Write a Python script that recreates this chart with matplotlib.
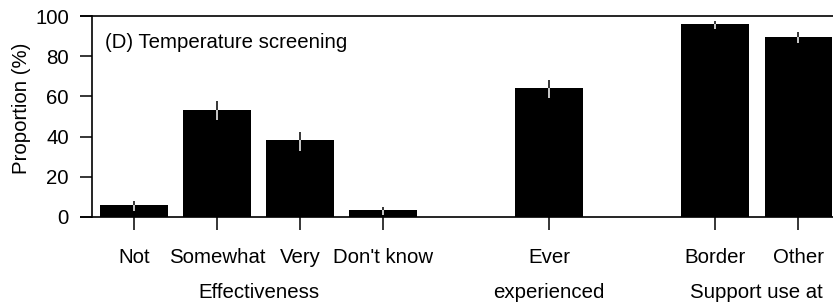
import matplotlib
matplotlib.use("Agg")
import matplotlib.pyplot as plt
import numpy as np

plt.rcParams['font.family'] = ['Liberation Sans', 'DejaVu Sans']

categories = ["Not", "Somewhat", "Very", "Don't know", "Ever", "Border", "Other"]
positions = [0, 1, 2, 3, 5, 7, 8]
values = [5.8, 53.1, 38.1, 3.3, 64.1, 95.9, 89.4]
err_low = [2.8, 48.3, 33.0, 1.2, 59.4, 93.5, 86.4]
err_high = [7.9, 57.5, 42.1, 4.8, 68.4, 97.7, 92.1]
group_labels = ["Effectiveness", "experienced", "Support use at"]
group_centers = [1.5, 5, 7.5]
yticks = [0, 20, 40, 60, 80, 100]

fig = plt.figure(figsize=(8.33, 3.07), dpi=100)
W, H = 833, 307
left, right, top, bottom = 92, 833, 16, 217
ax = fig.add_axes([left / W, (H - bottom) / H, (right - left) / W, (bottom - top) / H])

ax.bar(positions, values, width=0.81, color='black', edgecolor='black', linewidth=0)
ax.vlines(positions, err_low, values, color='white', linewidth=1.1, zorder=3)
ax.vlines(positions, values, err_high, color='black', linewidth=1.1, zorder=3)

ax.set_xlim(-0.506, 8.42)
ax.set_ylim(0, 100)

fs = 14.7
ax.set_yticks(yticks)
ax.set_yticklabels([str(v) for v in yticks], fontsize=fs)
ax.set_xticks(positions)
ax.set_xticklabels(categories, fontsize=fs)
ax.tick_params(axis='y', length=8.6, width=1.1, pad=8, direction='out')
ax.tick_params(axis='x', length=9.5, width=1.1, pad=12.5, direction='out')

ax.spines['right'].set_visible(False)
for s in ['left', 'top', 'bottom']:
    ax.spines[s].set_linewidth(1.2)

# top/bottom lines extend over tick region at left
ax.plot([-0.506 - 12 / 83, -0.506], [100, 100], color='black', lw=1.2, clip_on=False, solid_capstyle='butt')
ax.plot([-0.506 - 12 / 83, -0.506], [0, 0], color='black', lw=1.2, clip_on=False, solid_capstyle='butt')

for lab, c in zip(group_labels, group_centers):
    ax.text(c, -0.378, lab, transform=ax.get_xaxis_transform(), ha='center', va='center', fontsize=fs)

ax.text(105 / W, (H - 42) / H, "(D) Temperature screening", transform=fig.transFigure,
        ha='left', va='center', fontsize=fs)

fig.text(22 / W, (H - 108) / H, "Proportion (%)", rotation=90, ha='center', va='center', fontsize=fs)

fig.savefig("out.png", dpi=100)
